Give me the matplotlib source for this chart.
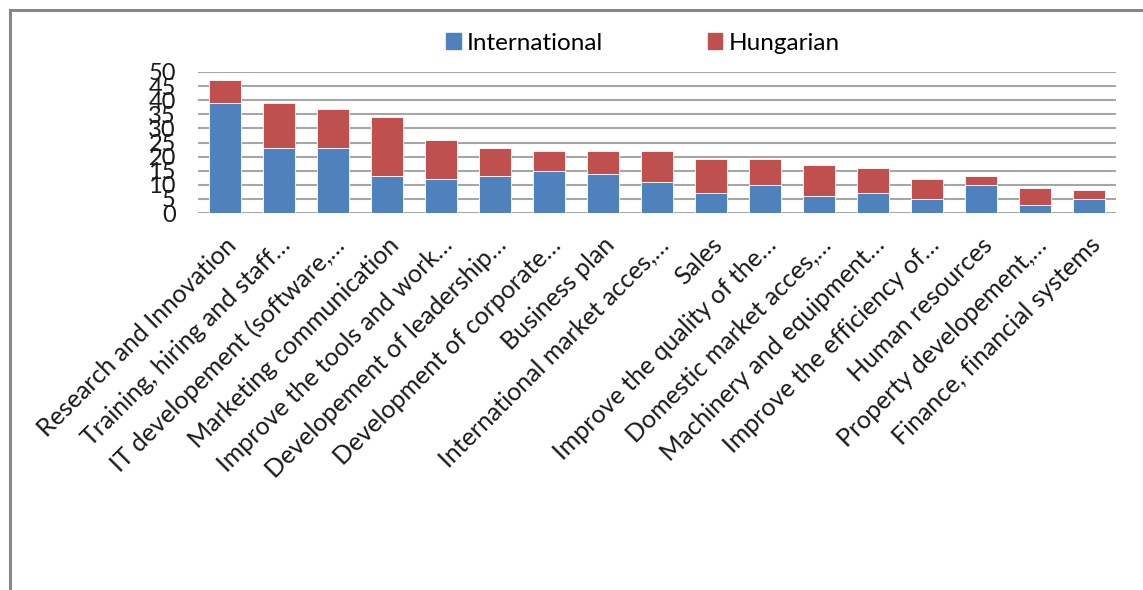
import matplotlib
matplotlib.use("Agg")
import matplotlib.pyplot as plt
import matplotlib.transforms as mtransforms
from matplotlib.patches import Patch
from matplotlib.lines import Line2D
import numpy as np

categories = [
    "Research and Innovation",
    "Training, hiring and staff…",
    "IT developement (software,…",
    "Marketing communication",
    "Improve the tools and work…",
    "Developement of leadership…",
    "Development of corporate…",
    "Business plan",
    "International market acces,…",
    "Sales",
    "Improve the quality of the…",
    "Domestic market acces,…",
    "Machinery and equipment…",
    "Improve the efficiency of…",
    "Human resources",
    "Property developement,…",
    "Finance, financial systems",
]
international = [39, 23, 23, 13, 12, 13, 15, 14, 11, 7, 10, 6, 7, 5, 10, 3, 5]
hungarian = [8, 16, 14, 21, 14, 10, 7, 8, 11, 12, 9, 11, 9, 7, 3, 6, 3]
y_ticks = [0, 5, 10, 15, 20, 25, 30, 35, 40, 45, 50]

BLUE = "#4F81BD"
RED = "#C0504D"
GRID = "#A6A6A6"

plt.rcParams["font.family"] = ["Lato", "DejaVu Sans"]


def stacked_bar():
    W, H = 1143, 590
    fig = plt.figure(figsize=(W / 100, H / 100), dpi=100)
    ax = fig.add_axes([198 / W, 1 - 213 / H, (1116 - 198) / W, (213 - 72) / H])

    x = np.arange(len(categories))
    ax.bar(x, international, width=0.58, color=BLUE, edgecolor="white", linewidth=0.6, zorder=2)
    ax.bar(x, hungarian, bottom=international, width=0.58, color=RED,
           edgecolor="white", linewidth=0.6, zorder=2)

    ax.set_xlim(-0.5, len(categories) - 0.5)
    ax.set_ylim(0, 50)
    ax.set_yticks(y_ticks)
    ax.set_yticklabels([str(v) for v in y_ticks], fontsize=17, color="#1a1a1a")
    ax.yaxis.grid(True, color=GRID, linewidth=1.5, zorder=0)
    ax.set_axisbelow(True)
    for s in ax.spines.values():
        s.set_visible(False)
    ax.tick_params(axis="y", length=0, pad=16)
    ax.tick_params(axis="x", length=0, pad=6)

    ax.set_xticks(x)
    ax.set_xticklabels(categories, rotation=45, ha="right", rotation_mode="anchor",
                       va="center", fontsize=18, color="#1a1a1a")
    # nudge labels so their ends sit under the bars
    offset = mtransforms.ScaledTranslation(8 / 100, -20 / 100, fig.dpi_scale_trans)
    for lab in ax.get_xticklabels():
        lab.set_transform(lab.get_transform() + offset)

    handles = [Patch(color=BLUE, label="International"), Patch(color=RED, label="Hungarian")]
    fig.legend(handles=handles, loc="center", bbox_to_anchor=(643 / W, 1 - 43 / H), ncol=2,
               frameon=False, fontsize=17.5, handlelength=0.6, handleheight=0.6,
               handletextpad=0.25, columnspacing=4.3)

    # chart border (left and top edges)
    fig.add_artist(Line2D([9.5 / W, 9.5 / W], [0, 1 - 10 / H], color="#878787",
                          linewidth=2.2, transform=fig.transFigure))
    fig.add_artist(Line2D([9.5 / W, 1], [1 - 10 / H, 1 - 10 / H], color="#878787",
                          linewidth=2.2, transform=fig.transFigure))

    fig.savefig("out.png", dpi=100)


if __name__ == "__main__":
    stacked_bar()
